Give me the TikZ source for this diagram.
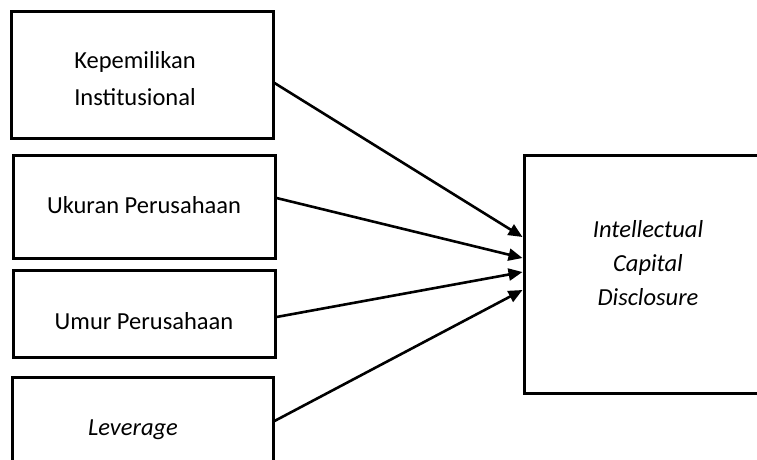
\documentclass[tikz,border=0pt]{standalone}
\usepackage{fontspec}
\setmainfont{Carlito}
\usetikzlibrary{arrows.meta}
\begin{document}
\begin{tikzpicture}[x=1pt,y=-1pt,
  box/.style={draw=black,line width=3pt,rectangle,inner sep=0pt,fill=white},
  lbl/.style={inner sep=0pt,align=center,font=\fontsize{24.5}{37}\selectfont},
  arr/.style={line width=2.6pt,-{Triangle[length=14pt,width=12pt]}}]
\useasboundingbox (0,0) rectangle (757,460);
\clip (0,0) rectangle (757,460);
\fill[white] (0,0) rectangle (757,460);
\node[box,minimum width=262pt,minimum height=126pt] (b1) at (142,75) {};
\node[box,minimum width=262pt,minimum height=103pt] (b2) at (144,206.5) {};
\node[box,minimum width=262pt,minimum height=87pt] (b3) at (144,313.5) {};
\node[box,minimum width=261pt,minimum height=120pt] (b4) at (142.5,437) {};
\node[box,minimum width=276pt,minimum height=238pt] (c) at (662,274) {};
\node[lbl,anchor=base] (t1) at (135,105) {Kepemilikan\\Institusional};
\node[lbl,anchor=base] (t2) at (144,213) {Ukuran Perusahaan};
\node[lbl,anchor=base] (t3) at (144,329) {Umur Perusahaan};
\node[lbl,anchor=base] (t4) at (133,435) {\itshape Leverage};
\node[lbl,anchor=base,font=\fontsize{24.5}{34}\selectfont\itshape] (tc) at (648,305) {Intellectual\\Capital\\Disclosure};
\draw[arr] ([yshift=-8pt]b1.east) -- ([yshift=37pt]c.west);
\draw[arr] ([yshift=8.5pt]b2.east) -- ([yshift=16pt]c.west);
\draw[arr] ([yshift=-3.5pt]b3.east) -- ([yshift=2pt]c.west);
\draw[arr] ([yshift=16pt]b4.east) -- ([yshift=-16pt]c.west);
\end{tikzpicture}
\end{document}
